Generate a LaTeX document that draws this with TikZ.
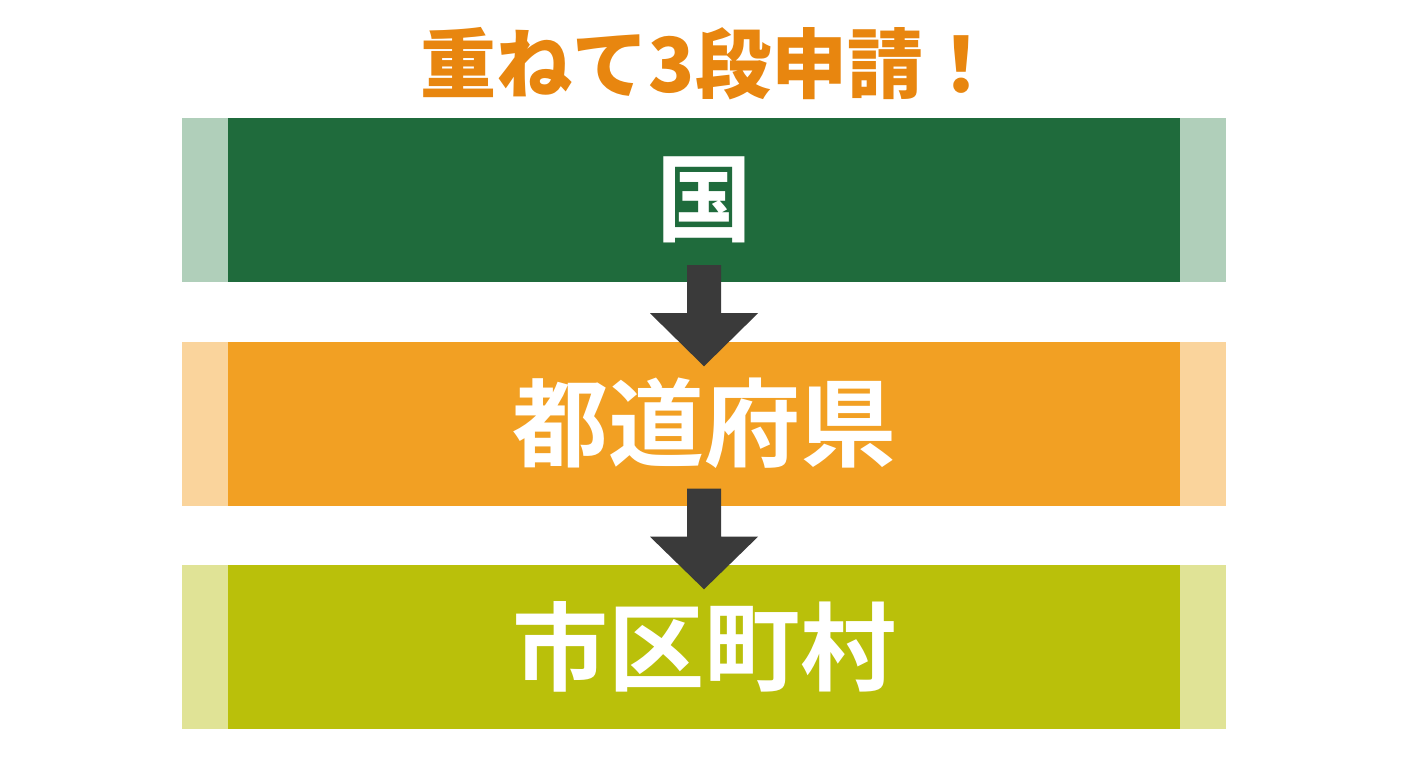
\documentclass[tikz,border=0pt]{standalone}
\usepackage{fontspec}
\usetikzlibrary{calc}
\newfontfamily\cjk{Noto Sans CJK JP}[UprightFont={* Bold},BoldFont={* Black}]
\definecolor{titlec}{RGB}{232,134,15}
\definecolor{gdark}{RGB}{31,107,60}
\definecolor{glight}{RGB}{176,207,186}
\definecolor{odark}{RGB}{242,160,35}
\definecolor{olight}{RGB}{250,212,156}
\definecolor{ydark}{RGB}{186,192,10}
\definecolor{ylight}{RGB}{224,227,150}
\definecolor{arrowc}{RGB}{58,58,58}
\tikzset{
  bar/.style={minimum width=952pt, minimum height=164pt, inner sep=0pt, text=white, font=\cjk\fontsize{96}{96}\selectfont},
  edge/.style={inner sep=0pt, minimum width=46pt, minimum height=164pt},
  titlestyle/.style={text=titlec, font=\cjk\bfseries\fontsize{76}{76}\selectfont, inner sep=0pt},
  downarrow/.style={fill=arrowc}
}
\begin{document}
\begin{tikzpicture}[x=1pt,y=-1pt]
\useasboundingbox (0,0) rectangle (1408,768);
\fill[white] (0,0) rectangle (1408,768);
\node[titlestyle] (title) at (710,64) {重ねて3段申請！};
% bars
\node[bar, fill=gdark] (b1) at (704,200) {国};
\node[bar, fill=odark] (b2) at (704,423.5) {都道府県};
\node[bar, fill=ydark] (b3) at (704,646.5) {市区町村};
\node[edge, fill=glight, anchor=east] (b1l) at (b1.west) {};
\node[edge, fill=glight, anchor=west] (b1r) at (b1.east) {};
\node[edge, fill=olight, anchor=east] (b2l) at (b2.west) {};
\node[edge, fill=olight, anchor=west] (b2r) at (b2.east) {};
\node[edge, fill=ylight, anchor=east] (b3l) at (b3.west) {};
\node[edge, fill=ylight, anchor=west] (b3r) at (b3.east) {};
% arrows
\foreach \a/\b in {b1/b2, b2/b3}{
  \fill[downarrow] ($(\a.south)+(-17,-17)$) -- ($(\a.south)+(17,-17)$) -- ($(\a.south)+(17,31)$)
    -- ($(\a.south)+(54,31)$) -- ($(\b.north)+(0,25)$) -- ($(\a.south)+(-54,31)$)
    -- ($(\a.south)+(-17,31)$) -- cycle;
}
\end{tikzpicture}
\end{document}
